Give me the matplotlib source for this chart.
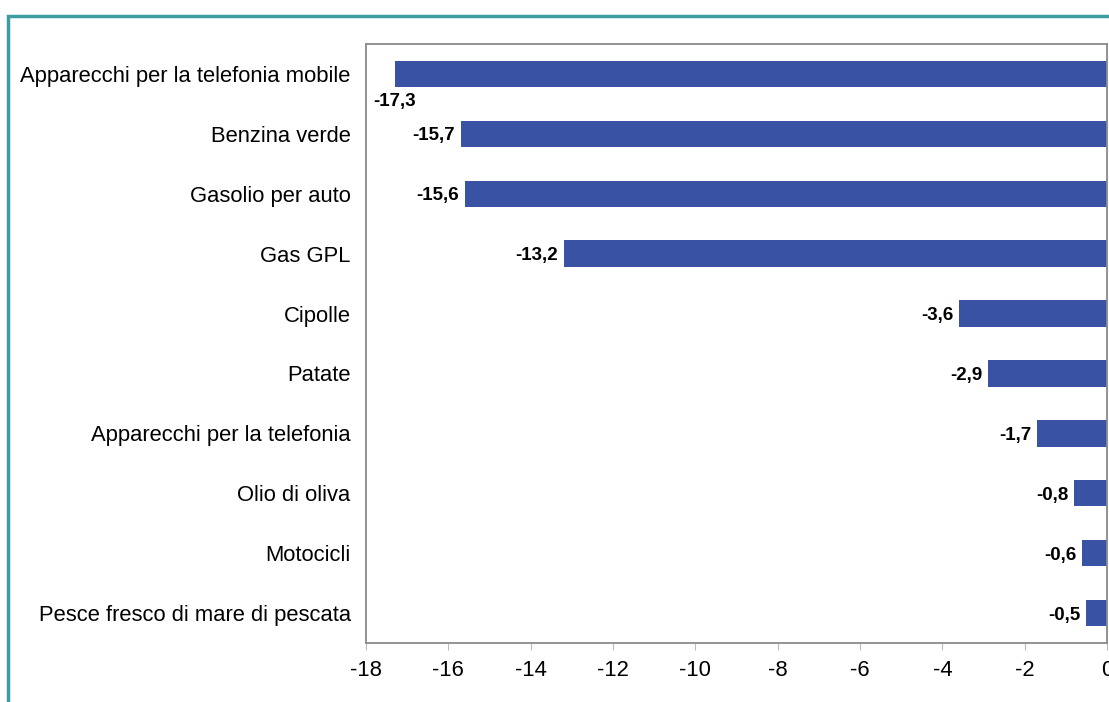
import matplotlib.pyplot as plt
from matplotlib.patches import Rectangle

plt.rcParams['font.family'] = ['Liberation Sans', 'DejaVu Sans']

# data
categorie = ["Apparecchi per la telefonia mobile", "Benzina verde", "Gasolio per auto",
             "Gas GPL", "Cipolle", "Patate", "Apparecchi per la telefonia",
             "Olio di oliva", "Motocicli", "Pesce fresco di mare di pescata"]
valori = [-17.3, -15.7, -15.6, -13.2, -3.6, -2.9, -1.7, -0.8, -0.6, -0.5]
xticks = [-18, -16, -14, -12, -10, -8, -6, -4, -2, 0]

W, H = 1109, 702
fig = plt.figure(figsize=(W / 100, H / 100), dpi=100)
ax = fig.add_axes([366 / W, 1 - 643 / H, (1107 - 366) / W, (643 - 44) / H])

# teal frame (left + top edge only visible)
fig.patches.append(Rectangle((8 / W, -0.1), 1.2, 1 - 16 / H + 0.1, transform=fig.transFigure,
                             fill=False, edgecolor='#3d9ea0', linewidth=2.5))

pos = list(range(len(categorie)))
ax.barh(pos, valori, height=0.44, color='#3a52a4')
ax.set_ylim(len(categorie) - 0.5, -0.5)
ax.set_xlim(-18, 0)
ax.set_yticks(pos)
ax.set_yticklabels(categorie, fontsize=15.8)
ax.set_xticks(xticks)
ax.set_xticklabels([str(t) for t in xticks], fontsize=15.8)
ax.tick_params(axis='y', length=0, pad=11)
ax.tick_params(axis='x', length=5, color='#bbbbbb', pad=7)
for s in ax.spines.values():
    s.set_color('#8a8a8a')
    s.set_linewidth(1.3)

# etichette dei valori
for i, v in enumerate(valori):
    txt = f"{v:.1f}".replace('.', ',')
    if i == 0:
        ax.annotate(txt, (v, i), xytext=(0, -14), textcoords='offset points',
                    ha='center', va='top', fontsize=13.5, fontweight='bold')
    else:
        ax.annotate(txt, (v, i), xytext=(-4, -1.5), textcoords='offset points',
                    ha='right', va='center', fontsize=13.5, fontweight='bold')

fig.savefig('out.png', dpi=100)
